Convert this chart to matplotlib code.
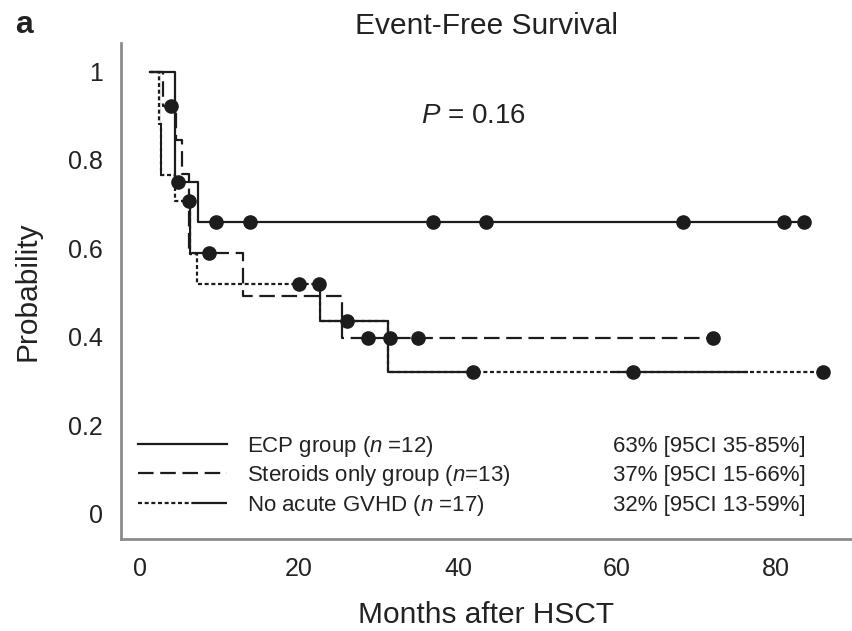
import numpy as np
import matplotlib
matplotlib.use('Agg')
import matplotlib.pyplot as plt
from matplotlib.lines import Line2D
from matplotlib.patches import Rectangle

plt.rcParams['font.family'] = ['Liberation Sans', 'DejaVu Sans']
plt.rcParams['mathtext.fontset'] = 'custom'
plt.rcParams['mathtext.rm'] = 'Liberation Sans'
plt.rcParams['mathtext.it'] = 'Liberation Sans:italic'
plt.rcParams['mathtext.bf'] = 'Liberation Sans:bold'

# Kaplan-Meier steps: time where the value changes, value from then on
ecp_t = [1.3, 4.4, 7.3]
ecp_s = [1.0, 0.75, 0.66]
ecp_end = 83.6
ecp_cens = [4.8, 9.6, 13.8, 36.9, 43.6, 68.3, 81.1, 83.6]

ster_t = [1.3, 2.9, 4.5, 5.3, 6.2, 13.0, 25.4]
ster_s = [1.0, 0.923, 0.846, 0.769, 0.59, 0.493, 0.396]
ster_end = 72.1
ster_cens = [3.9, 8.7, 28.7, 31.5, 35.0, 72.1]

gvhd_t = [1.3, 2.4, 2.6, 4.4, 6.3, 7.2, 22.6, 31.2]
gvhd_s = [1.0, 0.882, 0.765, 0.706, 0.588, 0.52, 0.436, 0.32]
gvhd_end = 85.9
gvhd_cens = [6.2, 20.0, 22.5, 26.0, 41.9, 62.0, 85.9]
# parts of the no-GVHD curve that are printed solid instead of dotted
gvhd_solid = [(2.5, 2.75), (6.2, 6.6), (22.5, 41.9), (59.5, 76.5)]

group_labels = ['ECP group ($n$ =12)', 'Steroids only group ($n$=13)',
                'No acute GVHD ($n$ =17)']
ci_labels = ['63% [95CI 35-85%]', '37% [95CI 15-66%]', '32% [95CI 13-59%]']

xticks = [0, 20, 40, 60, 80]
yticks = [0, 0.2, 0.4, 0.6, 0.8, 1.0]
ytick_labels = ['0', '0.2', '0.4', '0.6', '0.8', '1']

ink = '#1c1c1c'
txt = '#222222'
lw = 1.6
dashed = (0, (7, 3))
dotted = (0, (1.8, 1.2))


def steps(t, s, end):
    return list(t) + [end], list(s) + [s[-1]]


def cens_vals(t, s, c):
    idx = np.searchsorted(t, c, side='right') - 1
    return np.array(s)[idx]


fig = plt.figure(figsize=(8.52, 6.31), dpi=100)
ax = fig.add_axes([0.1417, 0.1458, 0.8583, 0.7856])

# ECP
x, y = steps(ecp_t, ecp_s, ecp_end)
ax.step(x, y, where='post', color=ink, lw=lw)
ax.plot(ecp_cens, cens_vals(ecp_t, ecp_s, ecp_cens), 'o', color=ink, ms=9.5)

# steroids only
x, y = steps(ster_t, ster_s, ster_end)
ax.step(x, y, where='post', color=ink, lw=lw, ls=dashed)
ax.plot(ster_cens, cens_vals(ster_t, ster_s, ster_cens), 'o', color=ink, ms=9.5)

# no acute GVHD: dotted, with solid stretches
x, y = steps(gvhd_t, gvhd_s, gvhd_end)
ax.step(x, y, where='post', color=ink, lw=lw, ls=dotted)
for a, b in gvhd_solid:
    ln, = ax.step(x, y, where='post', color=ink, lw=lw)
    ln.set_clip_path(Rectangle((a, -1), b - a, 3, transform=ax.transData))
ax.plot(gvhd_cens, cens_vals(gvhd_t, gvhd_s, gvhd_cens), 'o', color=ink, ms=9.5)

ax.set_xlim(-2.43, 89.6)
ax.set_ylim(-0.058, 1.064)
ax.set_xticks(xticks)
ax.set_yticks(yticks)
ax.set_yticklabels(ytick_labels)
ax.tick_params(length=0, labelsize=18, colors=txt)
ax.tick_params(axis='x', pad=13)
ax.tick_params(axis='y', pad=13)
for side in ['top', 'right']:
    ax.spines[side].set_visible(False)
for side in ['left', 'bottom']:
    ax.spines[side].set_color('#8c8c8c')
    ax.spines[side].set_linewidth(2)

ax.set_xlabel('Months after HSCT', fontsize=21.5, labelpad=14, color=txt)
ax.set_ylabel('Probability', fontsize=21.5, labelpad=19, color=txt)
ax.set_title('Event-Free Survival', fontsize=21.5, pad=7, color=txt)
ax.text(42, 0.90, '$P$ = 0.16', ha='center', va='center', fontsize=20,
        color=txt)
fig.text(15 / 852, 1 - 33 / 631, 'a', fontsize=23, fontweight='bold',
         va='baseline', color=txt)

handles = [
    Line2D([], [], color=ink, lw=lw),
    Line2D([], [], color=ink, lw=lw, ls=dashed),
    Line2D([], [], color=ink, lw=lw, ls=(0, [1.8, 1.2] * 8 + [20, 0.01])),
]
leg = ax.legend(handles, group_labels, loc='lower left',
                bbox_to_anchor=(0.0237, 0.043), frameon=False, fontsize=16,
                handlelength=4.0, handletextpad=0.89, labelspacing=0.2,
                borderpad=0, borderaxespad=0, labelcolor=txt)

# CI column lined up with each legend row
fig.canvas.draw()
inv = ax.transData.inverted()
for ci, lt in zip(ci_labels, leg.get_texts()):
    bb = lt.get_window_extent()
    yc = inv.transform((0, (bb.y0 + bb.y1) / 2))[1]
    ax.text(59.5, yc, ci, ha='left', va='center', fontsize=16, color=txt)

fig.savefig('out.png', dpi=100)
